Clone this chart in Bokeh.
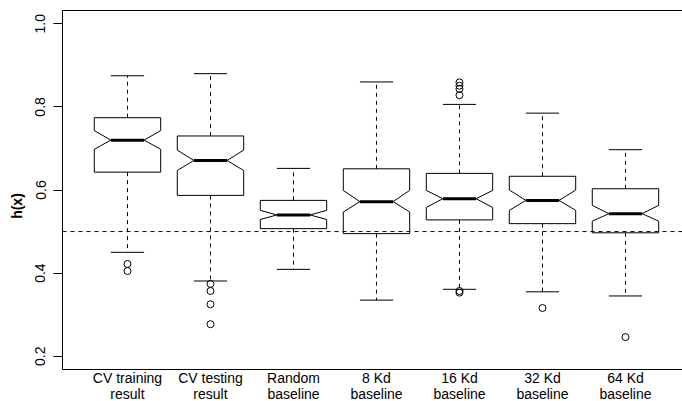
from bokeh.plotting import figure
from bokeh.models import FixedTicker, LinearAxis, Range1d, Span
from bokeh.embed import file_html
from bokeh.resources import INLINE

# ---- data ----
categories = ["CV training\nresult", "CV testing\nresult", "Random\nbaseline",
              "8 Kd\nbaseline", "16 Kd\nbaseline", "32 Kd\nbaseline", "64 Kd\nbaseline"]
upper_whisker = [0.875, 0.880, 0.652, 0.860, 0.806, 0.785, 0.697]
q3 = [0.774, 0.730, 0.575, 0.651, 0.640, 0.633, 0.603]
notch_hi = [0.743, 0.696, 0.551, 0.599, 0.599, 0.600, 0.563]
median = [0.720, 0.671, 0.540, 0.572, 0.579, 0.575, 0.543]
notch_lo = [0.698, 0.647, 0.529, 0.547, 0.558, 0.551, 0.525]
q1 = [0.643, 0.587, 0.507, 0.495, 0.528, 0.519, 0.497]
lower_whisker = [0.450, 0.381, 0.409, 0.335, 0.361, 0.355, 0.345]
outliers = [
    [0.422, 0.405],
    [0.374, 0.357, 0.325, 0.277],
    [],
    [],
    [0.859, 0.851, 0.843, 0.828, 0.357, 0.353],
    [0.316],
    [0.246],
]
reference_line = 0.5
y_ticks = [0.2, 0.4, 0.6, 0.8, 1.0]

FONT = "Liberation Sans"
half = 0.4       # box half width
nhalf = 0.2      # notch / staple half width
Y0, Y1 = 0.168, 1.032          # plot box (as in R: ylim extended by 4%)
FRAME_PX = 359                  # plot box height in px
LABEL_PX = 32                   # room under the box for the category labels
Ybot = Y0 - LABEL_PX * (Y1 - Y0) / FRAME_PX

p = figure(width=682, height=401, output_backend="svg", toolbar_location=None,
           x_range=Range1d(0.217, 7.687), y_range=Range1d(Ybot, Y1),
           min_border_left=62, min_border_right=0, min_border_top=10, min_border_bottom=0)
p.outline_line_color = None
p.xgrid.visible = False
p.ygrid.visible = False
p.background_fill_color = "white"
p.border_fill_color = "white"

xs = list(range(1, len(categories) + 1))

# notched boxes
box_xs, box_ys = [], []
for i, c in enumerate(xs):
    box_xs.append([c - half, c - half, c - nhalf, c - half, c - half,
                   c + half, c + half, c + nhalf, c + half, c + half])
    box_ys.append([q1[i], notch_lo[i], median[i], notch_hi[i], q3[i],
                   q3[i], notch_hi[i], median[i], notch_lo[i], q1[i]])
p.patches(box_xs, box_ys, fill_color="white", line_color="black", line_width=1)

# whiskers
p.segment(x0=xs, y0=q3, x1=xs, y1=upper_whisker, line_color="black", line_width=1, line_dash="4 4")
p.segment(x0=xs, y0=q1, x1=xs, y1=lower_whisker, line_color="black", line_width=1, line_dash="4 4")
# staples
p.segment(x0=[c - nhalf for c in xs], y0=upper_whisker, x1=[c + nhalf for c in xs], y1=upper_whisker,
          line_color="black", line_width=1)
p.segment(x0=[c - nhalf for c in xs], y0=lower_whisker, x1=[c + nhalf for c in xs], y1=lower_whisker,
          line_color="black", line_width=1)
# medians
p.segment(x0=[c - nhalf for c in xs], y0=median, x1=[c + nhalf for c in xs], y1=median,
          line_color="black", line_width=3)

# outliers
ox, oy = [], []
for c, vals in zip(xs, outliers):
    for v in vals:
        ox.append(c)
        oy.append(v)
p.scatter(ox, oy, marker="circle", size=7, fill_color=None, line_color="black", line_width=1)

# reference line
p.add_layout(Span(location=reference_line, dimension="width", line_color="black",
                  line_width=1, line_dash="4 4"))

# x axis, pinned to the bottom of the plot box
xa = p.xaxis[0]
xa.fixed_location = Y0
xa.ticker = FixedTicker(ticks=xs)
xa.major_label_overrides = {c: lab for c, lab in zip(xs, categories)}
xa.major_tick_out = 0
xa.major_tick_in = 0
xa.minor_tick_out = 0
xa.minor_tick_in = 0
xa.axis_line_color = "black"
xa.major_label_text_font = FONT
xa.major_label_text_font_size = "14px"
xa.major_label_text_color = "black"
xa.major_label_standoff = 0
xa.major_label_text_line_height = 1.05

# y axis
ya = p.yaxis[0]
ya.bounds = (Y0, Y1)
ya.ticker = FixedTicker(ticks=y_ticks)
ya.major_label_overrides = {t: f"{t:.1f}" for t in y_ticks}
ya.major_label_orientation = "vertical"
ya.major_tick_out = 9
ya.major_tick_in = 0
ya.minor_tick_out = 0
ya.minor_tick_in = 0
ya.axis_line_color = "black"
ya.major_tick_line_color = "black"
ya.major_label_text_font = FONT
ya.major_label_text_font_size = "14px"
ya.major_label_text_color = "black"
ya.major_label_standoff = 8
ya.axis_label = "h(x)"
ya.axis_label_text_font = FONT
ya.axis_label_text_font_style = "bold"
ya.axis_label_text_font_size = "14px"
ya.axis_label_text_color = "black"
ya.axis_label_standoff = 8

# top frame line
top = LinearAxis(ticker=FixedTicker(ticks=[]), major_tick_out=0, major_tick_in=0,
                 minor_tick_out=0, minor_tick_in=0, major_label_text_font_size="0px",
                 axis_line_color="black", major_label_standoff=0)
p.add_layout(top, "above")

open("out.html", "w").write(file_html(p, INLINE))
